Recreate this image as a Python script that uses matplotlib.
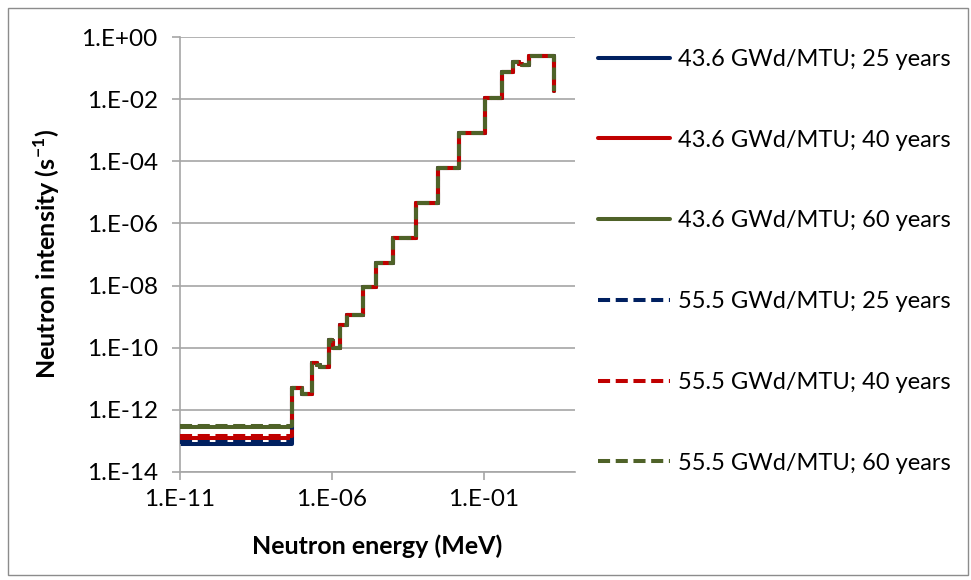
import matplotlib
matplotlib.use("Agg")
import matplotlib.pyplot as plt
from matplotlib.patches import Rectangle

plt.rcParams['font.family'] = ['Lato', 'DejaVu Sans']
plt.rcParams['mathtext.fontset'] = 'custom'
plt.rcParams['mathtext.rm'] = 'Lato'
plt.rcParams['mathtext.bf'] = 'Lato:bold'

# 27-group energy boundaries (MeV)
energy_bounds = [1e-11, 1e-8, 3e-8, 5e-8, 1e-7, 2.25e-7, 3.25e-7, 4.1399e-7, 8e-7,
                 1e-6, 1.1254e-6, 1.2998e-6, 1.8554e-6, 3.059e-6, 1.0677e-5,
                 2.9023e-5, 1.013e-4, 5.8295e-4, 3.0354e-3, 1.5034e-2, 1.1109e-1,
                 4.0762e-1, 9.0718e-1, 1.4227, 1.8268, 3.0119, 6.3763, 20.0]

# group intensities above 5e-8 MeV (all six series coincide there), last entry = end point
fast_groups = [5.0e-12, 3.2e-12, 3.2e-11, 2.8e-11, 2.4e-11, 1.8e-10, 1.7e-10, 1.0e-10,
               9.5e-11, 5.4e-10, 1.13e-9, 9.0e-9, 5.3e-8, 3.4e-7, 4.5e-6, 6.1e-5,
               8.1e-4, 1.09e-2, 7.5e-2, 0.157, 0.14, 0.126, 0.245, 0.245, 0.018]

# thermal groups (1e-11 .. 5e-8 MeV), per series
thermal_436_25 = [8.0e-14, 8.0e-14, 8.0e-14]
thermal_436_40 = [1.25e-13, 1.25e-13, 1.25e-13]
thermal_436_60 = [2.8e-13, 2.8e-13, 2.8e-13]
thermal_555_25 = [9.0e-14, 9.0e-14, 9.0e-14]
thermal_555_40 = [1.4e-13, 1.4e-13, 1.4e-13]
thermal_555_60 = [3.1e-13, 3.1e-13, 3.1e-13]

labels = ["43.6 GWd/MTU; 25 years", "43.6 GWd/MTU; 40 years", "43.6 GWd/MTU; 60 years",
          "55.5 GWd/MTU; 25 years", "55.5 GWd/MTU; 40 years", "55.5 GWd/MTU; 60 years"]
thermals = [thermal_436_25, thermal_436_40, thermal_436_60,
            thermal_555_25, thermal_555_40, thermal_555_60]

blue = '#002060'
red = '#C00000'
green = '#4F6228'
colors = [blue, red, green, blue, red, green]
styles = ['-', '-', '-', '--', '--', '--']
zorders = [2, 4, 3, 5, 6, 7]

fig = plt.figure(figsize=(9.71, 5.80), dpi=100)
fig.patches.append(Rectangle((8/971, 5/580), 960/971, 567/580, transform=fig.transFigure,
                             fill=False, edgecolor='#8C8C8C', linewidth=1.0))
ax = fig.add_axes([180/971, 1-472/580, 395/971, 435/580])

lw = 2.9
for lab, th, c, ls, z in zip(labels, thermals, colors, styles, zorders):
    vals = th + fast_groups
    line, = ax.step(energy_bounds, vals, where='post', color=c, linestyle=ls,
                    linewidth=lw, label=lab, zorder=z,
                    solid_joinstyle='round', solid_capstyle='round',
                    dash_joinstyle='round', dash_capstyle='butt')
    if ls == '--':
        line.set_dashes((3.0, 1.4))

ax.set_xscale('log')
ax.set_yscale('log')
ax.set_xlim(1e-11, 1e2)
ax.set_ylim(1e-14, 1e0)

yticks = [1e-14, 1e-12, 1e-10, 1e-8, 1e-6, 1e-4, 1e-2, 1e0]
ytick_labels = ['1.E-14', '1.E-12', '1.E-10', '1.E-08', '1.E-06', '1.E-04', '1.E-02', '1.E+00']
xticks = [1e-11, 1e-6, 1e-1]
xtick_labels = ['1.E-11', '1.E-06', '1.E-01']
ax.set_yticks(yticks)
ax.set_yticklabels(ytick_labels)
ax.set_xticks(xticks)
ax.set_xticklabels(xtick_labels)
ax.minorticks_off()

ax.grid(axis='y', color='#A6A6A6', linewidth=1.2, zorder=0)
ax.set_axisbelow(True)
for s in ['top', 'right']:
    ax.spines[s].set_visible(False)
for s in ['left', 'bottom']:
    ax.spines[s].set_color('#A6A6A6')
    ax.spines[s].set_linewidth(1.2)
ax.tick_params(axis='both', colors='#A6A6A6', labelcolor='black', labelsize=17.5,
               length=6, width=1.2, direction='out')
ax.tick_params(axis='y', pad=10)
ax.tick_params(axis='x', pad=6)

ax.set_xlabel('Neutron energy (MeV)', fontsize=18, fontweight='bold', labelpad=18)
ax.set_ylabel(r'Neutron intensity (s$^{\mathbf{-1}}$)', fontsize=18, fontweight='bold',
              labelpad=14)

leg = fig.legend(loc='upper left', bbox_to_anchor=(588.5/971, 1-39.5/580), frameon=False,
                 fontsize=17, handlelength=3.05, handletextpad=0.34, labelspacing=2.53,
                 borderaxespad=0)

fig.savefig('out.png', dpi=100)
